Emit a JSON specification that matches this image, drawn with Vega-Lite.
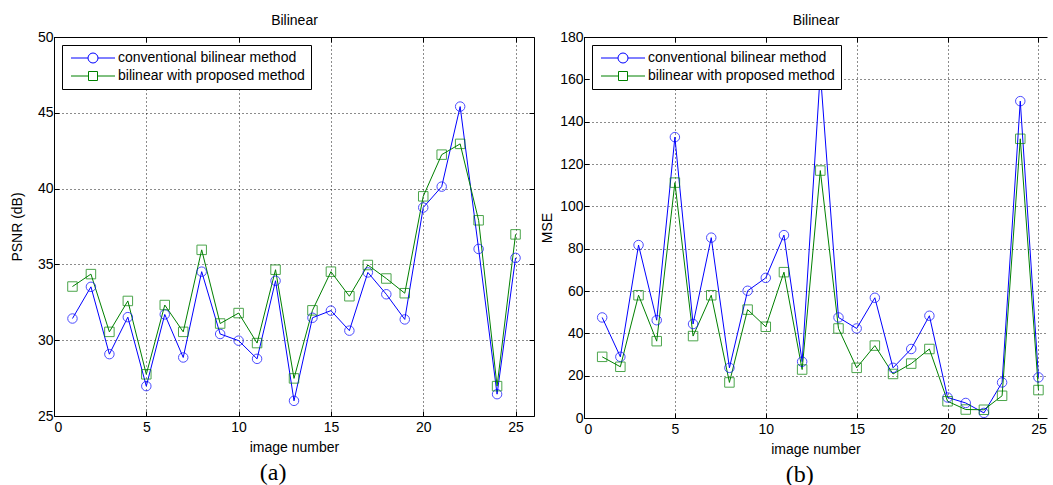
{
  "$schema": "https://vega.github.io/schema/vega-lite/v6.json",
  "padding": {"left": 10, "top": 13, "right": 0, "bottom": 0},
  "background": "white",
  "spacing": 4,
  "config": {
    "view": {"stroke": null},
    "font": "Liberation Sans",
    "axis": {
      "labelFont": "Liberation Sans", "labelFontSize": 14, "labelColor": "black",
      "titleFont": "Liberation Sans", "titleFontSize": 14, "titleFontWeight": "normal", "titleColor": "black",
      "domainColor": "black", "domainWidth": 1, "tickColor": "black", "tickSize": -5, "tickWidth": 1,
      "gridColor": "black", "gridDash": [1, 3], "gridOpacity": 0.9, "gridWidth": 1,
      "labelPadding": 6, "titlePadding": 6
    },
    "legend": {
      "orient": "top-left", "offset": 8, "padding": 6, "symbolOffset": 3,
      "fillColor": "white", "strokeColor": "black", "strokeWidth": 1, "cornerRadius": 0,
      "labelFont": "Liberation Sans", "labelFontSize": 14, "labelColor": "black", "labelLimit": 400,
      "symbolSize": 100, "symbolStrokeWidth": 1, "symbolOpacity": 1, "labelOffset": 33, "rowPadding": 4
    },
    "title": {"font": "Liberation Serif", "fontSize": 24, "fontWeight": "normal", "color": "black"}
  },
  "datasets": {
    "d": [
      {"img": 1, "method": "conventional bilinear method", "psnr": 31.43, "mse": 47.5},
      {"img": 2, "method": "conventional bilinear method", "psnr": 33.52, "mse": 28.9},
      {"img": 3, "method": "conventional bilinear method", "psnr": 29.08, "mse": 81.7},
      {"img": 4, "method": "conventional bilinear method", "psnr": 31.52, "mse": 46.2},
      {"img": 5, "method": "conventional bilinear method", "psnr": 26.97, "mse": 132.7},
      {"img": 6, "method": "conventional bilinear method", "psnr": 31.70, "mse": 44.4},
      {"img": 7, "method": "conventional bilinear method", "psnr": 28.86, "mse": 85.2},
      {"img": 8, "method": "conventional bilinear method", "psnr": 34.52, "mse": 23.7},
      {"img": 9, "method": "conventional bilinear method", "psnr": 30.41, "mse": 60.1},
      {"img": 10, "method": "conventional bilinear method", "psnr": 29.97, "mse": 66.2},
      {"img": 11, "method": "conventional bilinear method", "psnr": 28.77, "mse": 86.4},
      {"img": 12, "method": "conventional bilinear method", "psnr": 33.92, "mse": 26.6},
      {"img": 13, "method": "conventional bilinear method", "psnr": 26.00, "mse": 163.3},
      {"img": 14, "method": "conventional bilinear method", "psnr": 31.48, "mse": 47.5},
      {"img": 15, "method": "conventional bilinear method", "psnr": 31.95, "mse": 42.3},
      {"img": 16, "method": "conventional bilinear method", "psnr": 30.63, "mse": 56.8},
      {"img": 17, "method": "conventional bilinear method", "psnr": 34.47, "mse": 23.7},
      {"img": 18, "method": "conventional bilinear method", "psnr": 33.03, "mse": 32.6},
      {"img": 19, "method": "conventional bilinear method", "psnr": 31.37, "mse": 48.3},
      {"img": 20, "method": "conventional bilinear method", "psnr": 38.75, "mse": 9.7},
      {"img": 21, "method": "conventional bilinear method", "psnr": 40.13, "mse": 7.1},
      {"img": 22, "method": "conventional bilinear method", "psnr": 45.41, "mse": 2.4},
      {"img": 23, "method": "conventional bilinear method", "psnr": 36.02, "mse": 16.8},
      {"img": 24, "method": "conventional bilinear method", "psnr": 26.44, "mse": 149.7},
      {"img": 25, "method": "conventional bilinear method", "psnr": 35.43, "mse": 19.2},
      {"img": 1, "method": "bilinear with proposed method", "psnr": 33.54, "mse": 28.9},
      {"img": 2, "method": "bilinear with proposed method", "psnr": 34.36, "mse": 24.2},
      {"img": 3, "method": "bilinear with proposed method", "psnr": 30.55, "mse": 58.0},
      {"img": 4, "method": "bilinear with proposed method", "psnr": 32.59, "mse": 36.3},
      {"img": 5, "method": "bilinear with proposed method", "psnr": 27.75, "mse": 111.2},
      {"img": 6, "method": "bilinear with proposed method", "psnr": 32.32, "mse": 38.7},
      {"img": 7, "method": "bilinear with proposed method", "psnr": 30.55, "mse": 58.0},
      {"img": 8, "method": "bilinear with proposed method", "psnr": 35.96, "mse": 16.8},
      {"img": 9, "method": "bilinear with proposed method", "psnr": 31.10, "mse": 51.2},
      {"img": 10, "method": "bilinear with proposed method", "psnr": 31.79, "mse": 43.1},
      {"img": 11, "method": "bilinear with proposed method", "psnr": 29.81, "mse": 68.9},
      {"img": 12, "method": "bilinear with proposed method", "psnr": 34.65, "mse": 22.9},
      {"img": 13, "method": "bilinear with proposed method", "psnr": 27.48, "mse": 116.9},
      {"img": 14, "method": "bilinear with proposed method", "psnr": 31.97, "mse": 42.3},
      {"img": 15, "method": "bilinear with proposed method", "psnr": 34.52, "mse": 23.7},
      {"img": 16, "method": "bilinear with proposed method", "psnr": 32.90, "mse": 34.2},
      {"img": 17, "method": "bilinear with proposed method", "psnr": 34.96, "mse": 20.8},
      {"img": 18, "method": "bilinear with proposed method", "psnr": 34.07, "mse": 25.7},
      {"img": 19, "method": "bilinear with proposed method", "psnr": 33.10, "mse": 32.6},
      {"img": 20, "method": "bilinear with proposed method", "psnr": 39.49, "mse": 7.9},
      {"img": 21, "method": "bilinear with proposed method", "psnr": 42.24, "mse": 4.0},
      {"img": 22, "method": "bilinear with proposed method", "psnr": 42.95, "mse": 3.9},
      {"img": 23, "method": "bilinear with proposed method", "psnr": 37.91, "mse": 10.5},
      {"img": 24, "method": "bilinear with proposed method", "psnr": 26.97, "mse": 131.9},
      {"img": 25, "method": "bilinear with proposed method", "psnr": 36.98, "mse": 13.2}
    ]
  },
  "hconcat": [
    {
      "width": 480,
      "height": 379,
      "data": {"name": "d"},
      "title": {"text": "(a)", "orient": "bottom", "frame": "bounds", "anchor": "middle", "offset": 7},
      "layer": [
        {
          "mark": {"type": "line", "strokeWidth": 1},
          "encoding": {
            "x": {"field": "img", "type": "quantitative", "scale": {"domain": [0, 26], "nice": false},
                  "axis": {"orient": "bottom", "values": [0, 5, 10, 15, 20, 25], "title": "image number", "grid": true, "labelPadding": 9, "titlePadding": 6}},
            "y": {"field": "psnr", "type": "quantitative", "scale": {"domain": [25, 50], "nice": false, "zero": false},
                  "axis": {"orient": "left", "values": [25, 30, 35, 40, 45, 50], "title": "PSNR (dB)", "grid": true, "titlePadding": 13}},
            "color": {"field": "method", "type": "nominal",
                      "scale": {"domain": ["conventional bilinear method", "bilinear with proposed method"], "range": ["#0000ff", "#008000"]},
                      "legend": null}
          }
        },
        {
          "mark": {"type": "point", "filled": false, "strokeWidth": 1, "size": 90},
          "encoding": {
            "x": {"field": "img", "type": "quantitative",
                  "axis": {"orient": "top", "values": [0, 5, 10, 15, 20, 25], "title": "Bilinear", "labels": false, "grid": false, "titlePadding": 9}},
            "y": {"field": "psnr", "type": "quantitative",
                  "axis": {"orient": "right", "values": [25, 30, 35, 40, 45, 50], "title": null, "labels": false, "grid": false}},
            "color": {"field": "method", "type": "nominal",
                      "scale": {"domain": ["conventional bilinear method", "bilinear with proposed method"], "range": ["#0000ff", "#008000"]},
                      "legend": null},
            "shape": {"field": "method", "type": "nominal",
                      "scale": {"domain": ["conventional bilinear method", "bilinear with proposed method"], "range": ["circle", "square"]},
                      "legend": null}
          }
        },
        {
          "mark": {"type": "point", "filled": false, "strokeWidth": 1, "opacity": 0},
          "encoding": {
            "x": {"field": "img", "type": "quantitative", "axis": null},
            "y": {"field": "psnr", "type": "quantitative", "axis": null},
            "color": {"field": "method", "type": "nominal",
                      "scale": {"domain": ["conventional bilinear method", "bilinear with proposed method"], "range": ["#0000ff", "#008000"]},
                      "legend": {"title": null, "labelExpr": "datum.label + '\u00a0\u00a0'"}},
            "shape": {"field": "method", "type": "nominal",
                      "scale": {"domain": ["conventional bilinear method", "bilinear with proposed method"], "range": ["M-1.4,0H2M4,0H7.4M4,0A1,1,0,1,1,2,0A1,1,0,1,1,4,0", "M-1.4,0H2.1M3.9,0H7.4M2.1,-0.9H3.9V0.9H2.1Z"]},
                      "legend": {"title": null, "labelExpr": "datum.label + '\u00a0\u00a0'"}}
          }
        }
      ],
      "resolve": {"axis": {"x": "independent", "y": "independent"}, "scale": {"color": "independent", "shape": "independent"}}
    },
    {
      "width": 463,
      "height": 381,
      "data": {"name": "d"},
      "title": {"text": "(b)", "orient": "bottom", "frame": "bounds", "anchor": "middle", "offset": 7},
      "layer": [
        {
          "mark": {"type": "line", "strokeWidth": 1},
          "encoding": {
            "x": {"field": "img", "type": "quantitative", "scale": {"domain": [0, 25.47], "nice": false},
                  "axis": {"orient": "bottom", "values": [0, 5, 10, 15, 20, 25], "title": "image number", "grid": true, "labelPadding": 9, "titlePadding": 6}},
            "y": {"field": "mse", "type": "quantitative", "scale": {"domain": [0, 180], "nice": false},
                  "axis": {"orient": "left", "values": [0, 20, 40, 60, 80, 100, 120, 140, 160, 180], "title": "MSE", "grid": true, "titlePadding": 5}},
            "color": {"field": "method", "type": "nominal",
                      "scale": {"domain": ["conventional bilinear method", "bilinear with proposed method"], "range": ["#0000ff", "#008000"]},
                      "legend": null}
          }
        },
        {
          "mark": {"type": "point", "filled": false, "strokeWidth": 1, "size": 90},
          "encoding": {
            "x": {"field": "img", "type": "quantitative",
                  "axis": {"orient": "top", "values": [0, 5, 10, 15, 20, 25], "title": "Bilinear", "labels": false, "grid": false, "titlePadding": 9}},
            "y": {"field": "mse", "type": "quantitative", "axis": null},
            "color": {"field": "method", "type": "nominal",
                      "scale": {"domain": ["conventional bilinear method", "bilinear with proposed method"], "range": ["#0000ff", "#008000"]},
                      "legend": null},
            "shape": {"field": "method", "type": "nominal",
                      "scale": {"domain": ["conventional bilinear method", "bilinear with proposed method"], "range": ["circle", "square"]},
                      "legend": null}
          }
        },
        {
          "mark": {"type": "point", "filled": false, "strokeWidth": 1, "opacity": 0},
          "encoding": {
            "x": {"field": "img", "type": "quantitative", "axis": null},
            "y": {"field": "mse", "type": "quantitative", "axis": null},
            "color": {"field": "method", "type": "nominal",
                      "scale": {"domain": ["conventional bilinear method", "bilinear with proposed method"], "range": ["#0000ff", "#008000"]},
                      "legend": {"title": null, "labelExpr": "datum.label + '\u00a0\u00a0'"}},
            "shape": {"field": "method", "type": "nominal",
                      "scale": {"domain": ["conventional bilinear method", "bilinear with proposed method"], "range": ["M-1.4,0H2M4,0H7.4M4,0A1,1,0,1,1,2,0A1,1,0,1,1,4,0", "M-1.4,0H2.1M3.9,0H7.4M2.1,-0.9H3.9V0.9H2.1Z"]},
                      "legend": {"title": null, "labelExpr": "datum.label + '\u00a0\u00a0'"}}
          }
        }
      ],
      "resolve": {"axis": {"x": "independent", "y": "independent"}, "scale": {"color": "independent", "shape": "independent"}}
    }
  ]
}
